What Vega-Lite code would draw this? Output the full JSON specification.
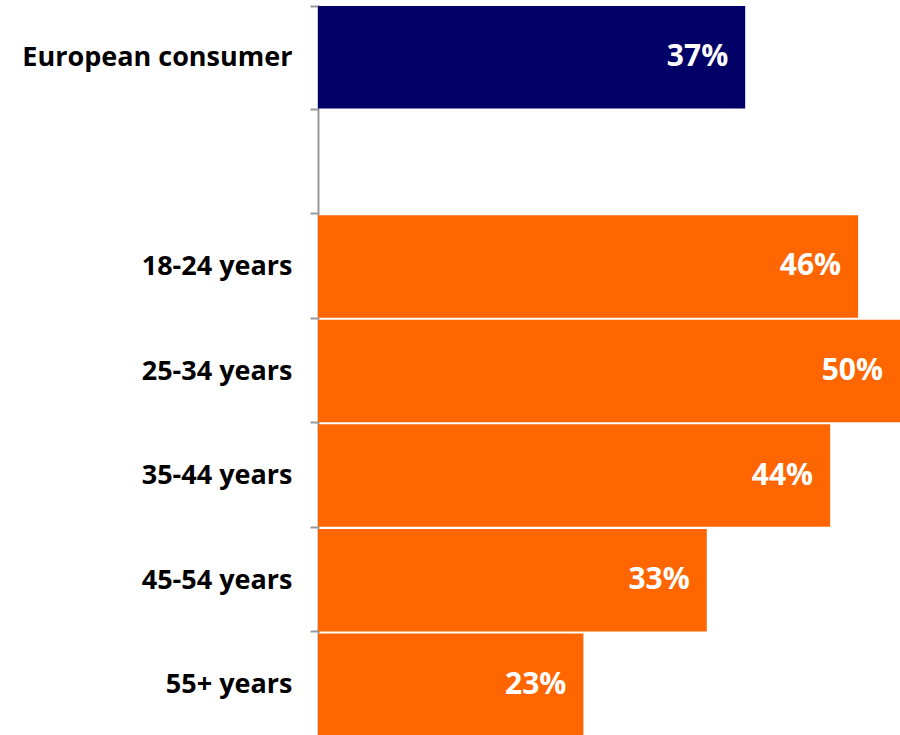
{
  "$schema": "https://vega.github.io/schema/vega-lite/v6.json",
  "width": 582,
  "height": 732,
  "autosize": "none",
  "padding": {"left": 318, "top": 5, "right": 0, "bottom": 0},
  "background": "white",
  "config": {"view": {"stroke": null}},
  "data": {
    "values": [
      {"category": "European consumer", "share": 0.367, "group": "total"},
      {"category": "18-24 years", "share": 0.464, "group": "age"},
      {"category": "25-34 years", "share": 0.5, "group": "age"},
      {"category": "35-44 years", "share": 0.44, "group": "age"},
      {"category": "45-54 years", "share": 0.334, "group": "age"},
      {"category": "55+ years", "share": 0.228, "group": "age"}
    ]
  },
  "encoding": {
    "y": {
      "field": "category",
      "type": "nominal",
      "scale": {
        "domain": ["European consumer", " ", "18-24 years", "25-34 years", "35-44 years", "45-54 years", "55+ years"],
        "paddingInner": 0.02,
        "paddingOuter": 0.01
      },
      "axis": {
        "title": null,
        "domainColor": "#999999",
        "domainWidth": 2,
        "tickColor": "#999999",
        "tickWidth": 2,
        "tickSize": 8,
        "tickBand": "extent",
        "labelFont": "Open Sans",
        "labelFontWeight": "bold",
        "labelFontSize": 27,
        "labelColor": "#000000",
        "labelPadding": 18,
        "labelLimit": 400
      }
    },
    "x": {
      "field": "share",
      "type": "quantitative",
      "scale": {"domain": [0, 0.5], "nice": false, "zero": true},
      "axis": null
    }
  },
  "layer": [
    {
      "mark": {"type": "bar"},
      "encoding": {
        "color": {
          "field": "group",
          "type": "nominal",
          "scale": {"domain": ["total", "age"], "range": ["#000066", "#FF6600"]},
          "legend": null
        }
      }
    },
    {
      "mark": {
        "type": "text",
        "align": "right",
        "baseline": "middle",
        "dx": -17,
        "color": "white",
        "font": "Open Sans",
        "fontWeight": "bold",
        "fontSize": 30
      },
      "encoding": {
        "text": {"field": "share", "type": "quantitative", "format": ".0%"}
      }
    }
  ]
}
